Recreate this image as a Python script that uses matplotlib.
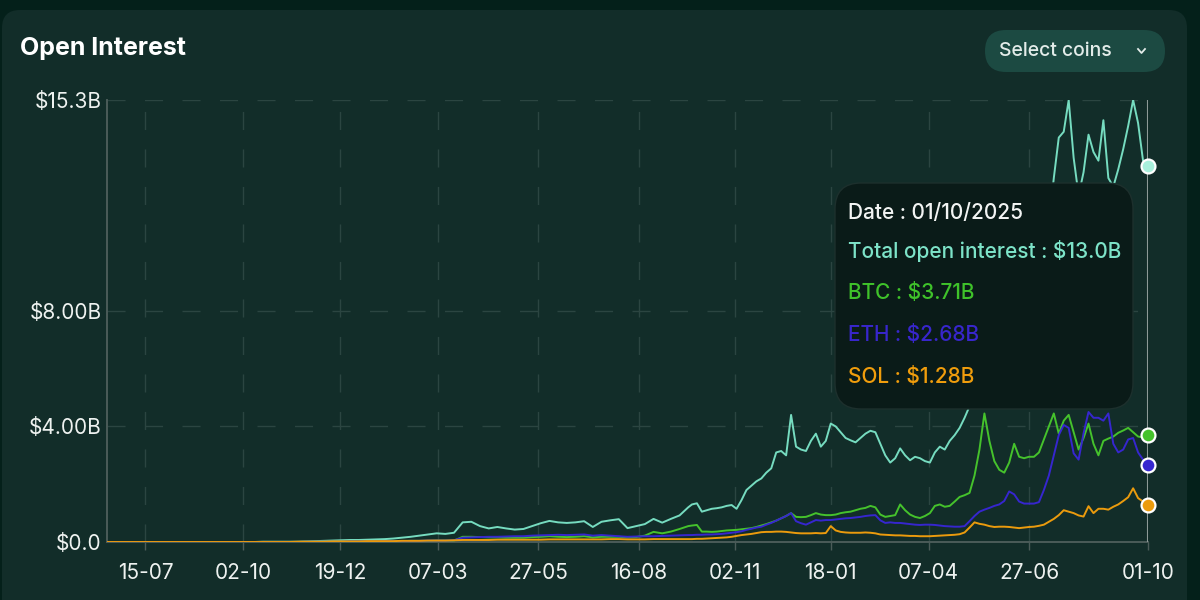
import matplotlib
matplotlib.use("Agg")
import matplotlib.pyplot as plt
from matplotlib.patches import FancyBboxPatch
from matplotlib.lines import Line2D
from matplotlib.transforms import IdentityTransform
import pandas as pd

plt.rcParams['font.family'] = ['Inter', 'DejaVu Sans']

# weekly readings up to late Sep 2024, then every 4 days up to 01/10/2025
weekly_dates = pd.date_range('2023-06-14', '2024-09-25', freq='7D')
recent_dates = pd.date_range('2024-09-28', '2025-10-01', freq='4D')
dates = weekly_dates.append(recent_dates)

total_oi = [
    0.0, 0.0, 0.0, 0.0, 0.0, 0.0, 0.0, 0.0, 0.0, 0.0,
    0.0, 0.0, 0.0, 0.0, 0.0, 0.0, 0.0, 0.0, 0.01, 0.01,
    0.01, 0.01, 0.01, 0.02, 0.03, 0.04, 0.05, 0.06, 0.07, 0.07,
    0.08, 0.09, 0.1, 0.12, 0.15, 0.18, 0.22, 0.26, 0.3, 0.28,
    0.32, 0.68, 0.7, 0.55, 0.47, 0.52, 0.47, 0.43, 0.45, 0.55,
    0.65, 0.73, 0.68, 0.66, 0.68, 0.72, 0.52, 0.7, 0.75, 0.79,
    0.48, 0.55, 0.62, 0.8, 0.67, 0.8, 0.92, 1.2,
    1.3, 1.34, 1.05, 1.1, 1.15, 1.17, 1.2, 1.25, 1.28, 1.15,
    1.45, 1.8, 1.95, 2.1, 2.2, 2.4, 2.55, 3.1, 3.15, 3.0,
    4.4, 3.3, 3.2, 3.15, 3.5, 3.75, 3.3, 3.5, 4.1, 4.0,
    3.8, 3.6, 3.52, 3.45, 3.6, 3.75, 3.85, 3.8, 3.4, 3.0,
    2.75, 2.9, 3.24, 3.0, 2.83, 2.95, 2.9, 2.8, 2.75, 3.1,
    3.3, 3.2, 3.5, 3.7, 3.95, 4.3, 4.7, 5.2, 6.2, 8.0,
    7.2, 6.8, 6.6, 6.8, 7.5, 8.2, 7.6, 7.4, 7.5, 7.6,
    8.0, 9.0, 11.0, 12.6, 14.0, 14.2, 15.3, 13.3, 12.0, 12.8,
    14.1, 13.5, 13.2, 14.6, 12.6, 12.3, 12.9, 13.6, 14.4, 15.3,
    14.5, 13.2, 13.0,
]

btc_oi = [
    0.0, 0.0, 0.0, 0.0, 0.0, 0.0, 0.0, 0.0, 0.0, 0.0,
    0.0, 0.0, 0.0, 0.0, 0.0, 0.0, 0.0, 0.0, 0.0, 0.0,
    0.0, 0.0, 0.0, 0.01, 0.01, 0.01, 0.01, 0.01, 0.02, 0.02,
    0.02, 0.02, 0.03, 0.03, 0.03, 0.04, 0.04, 0.04, 0.05, 0.05,
    0.05, 0.18, 0.18, 0.17, 0.16, 0.16, 0.15, 0.15, 0.15, 0.17,
    0.18, 0.2, 0.18, 0.17, 0.18, 0.2, 0.16, 0.18, 0.18, 0.18,
    0.16, 0.17, 0.22, 0.35, 0.3, 0.36, 0.45, 0.55,
    0.57, 0.59, 0.36, 0.36, 0.35, 0.36, 0.38, 0.4, 0.41, 0.42,
    0.44, 0.46, 0.48, 0.52, 0.57, 0.62, 0.68, 0.74, 0.82, 0.9,
    1.0, 0.87, 0.86, 0.87, 0.93, 1.0, 0.95, 0.93, 0.93, 0.95,
    1.0, 1.03, 1.05, 1.1, 1.15, 1.18, 1.25, 1.2, 0.95, 0.87,
    0.9, 0.93, 1.3, 1.1, 0.95, 0.87, 0.83, 0.9, 1.0, 1.25,
    1.3, 1.22, 1.25, 1.4, 1.56, 1.62, 1.7, 2.3, 3.2, 4.45,
    3.5, 2.8, 2.5, 2.4, 2.75, 3.4, 2.95, 2.9, 2.95, 2.95,
    3.1, 3.55, 4.0, 4.45, 3.75, 4.2, 4.4, 3.8, 3.2, 3.6,
    4.1, 3.4, 3.0, 3.5, 3.58, 3.65, 3.78, 3.86, 3.95, 3.8,
    3.65, 3.62, 3.71,
]

eth_oi = [
    0.0, 0.0, 0.0, 0.0, 0.0, 0.0, 0.0, 0.0, 0.0, 0.0,
    0.0, 0.0, 0.0, 0.0, 0.0, 0.0, 0.0, 0.0, 0.0, 0.0,
    0.0, 0.0, 0.0, 0.01, 0.01, 0.01, 0.01, 0.01, 0.02, 0.02,
    0.02, 0.02, 0.03, 0.03, 0.03, 0.04, 0.04, 0.05, 0.05, 0.05,
    0.06, 0.15, 0.16, 0.17, 0.18, 0.18, 0.19, 0.2, 0.2, 0.22,
    0.23, 0.24, 0.25, 0.24, 0.25, 0.26, 0.22, 0.24, 0.22, 0.2,
    0.18, 0.19, 0.2, 0.2, 0.21, 0.22, 0.23, 0.24,
    0.24, 0.25, 0.25, 0.26, 0.26, 0.27, 0.28, 0.3, 0.32, 0.34,
    0.37, 0.42, 0.46, 0.5, 0.53, 0.6, 0.66, 0.74, 0.82, 0.9,
    1.0, 0.72, 0.65, 0.6, 0.68, 0.76, 0.74, 0.76, 0.76, 0.78,
    0.8, 0.82, 0.83, 0.85, 0.87, 0.9, 0.92, 0.93, 0.75, 0.66,
    0.68, 0.66, 0.66, 0.64, 0.62, 0.6, 0.59, 0.6, 0.6, 0.59,
    0.57, 0.55, 0.54, 0.53, 0.53, 0.55, 0.72, 0.9, 1.05, 1.12,
    1.18, 1.25, 1.3, 1.42, 1.75, 1.65, 1.4, 1.33, 1.33, 1.33,
    1.38, 1.8, 2.3, 3.0, 3.7, 4.05, 3.95, 3.07, 2.85, 3.76,
    4.5, 4.3, 4.3, 4.2, 4.45, 3.4, 3.1, 3.2, 3.55, 3.6,
    3.1, 2.85, 2.68,
]

sol_oi = [
    0.0, 0.0, 0.0, 0.0, 0.0, 0.0, 0.0, 0.0, 0.0, 0.0,
    0.0, 0.0, 0.0, 0.0, 0.0, 0.0, 0.0, 0.0, 0.0, 0.0,
    0.0, 0.0, 0.01, 0.01, 0.01, 0.01, 0.02, 0.02, 0.02, 0.02,
    0.03, 0.03, 0.03, 0.03, 0.04, 0.04, 0.04, 0.05, 0.05, 0.05,
    0.06, 0.07, 0.07, 0.07, 0.07, 0.08, 0.08, 0.08, 0.08, 0.08,
    0.08, 0.09, 0.09, 0.09, 0.09, 0.09, 0.09, 0.09, 0.1, 0.1,
    0.09, 0.09, 0.09, 0.1, 0.1, 0.1, 0.1, 0.1,
    0.1, 0.11, 0.11, 0.12, 0.13, 0.14, 0.15, 0.16, 0.18, 0.21,
    0.24, 0.26, 0.28, 0.31, 0.34, 0.35, 0.35, 0.36, 0.36, 0.35,
    0.33, 0.31, 0.3, 0.3, 0.3, 0.31, 0.3, 0.31, 0.55, 0.4,
    0.35, 0.33, 0.32, 0.32, 0.32, 0.33, 0.32, 0.3, 0.26, 0.25,
    0.24, 0.23, 0.23, 0.22, 0.21, 0.21, 0.2, 0.2, 0.2, 0.21,
    0.22, 0.23, 0.24, 0.25, 0.27, 0.33, 0.5, 0.68, 0.63, 0.6,
    0.55, 0.52, 0.53, 0.53, 0.52, 0.5, 0.48, 0.5, 0.52, 0.53,
    0.56, 0.6, 0.7, 0.8, 0.93, 1.1, 1.05, 1.0, 0.92, 0.88,
    1.24, 1.0, 1.15, 1.15, 1.12, 1.22, 1.3, 1.42, 1.55, 1.86,
    1.52, 1.4, 1.28,
]

xtick_dates = ['2023-07-15', '2023-10-02', '2023-12-19', '2024-03-07', '2024-05-27',
               '2024-08-16', '2024-11-02', '2025-01-18', '2025-04-07', '2025-06-27',
               '2025-10-01']
xtick_labels = ['15-07', '02-10', '19-12', '07-03', '27-05', '16-08',
                '02-11', '18-01', '07-04', '27-06', '01-10']
ytick_values = [0, 4, 8, 15.3]
ytick_labels = ['$0.0', '$4.00B', '$8.00B', '$15.3B']

tooltip_lines = [
    ('Date : 01/10/2025', '#f2f4f3'),
    ('Total open interest : $13.0B', '#7de3c8'),
    ('BTC : $3.71B', '#3fc22a'),
    ('ETH : $2.68B', '#3826cc'),
    ('SOL : $1.28B', '#f09d0c'),
]
tooltip_rows_y = [213, 251, 293, 335, 377]

c_total = '#76dcc0'
c_btc = '#45c22c'
c_eth = '#3626cf'
c_sol = '#eb9b0d'

W, H = 1200, 600
fig = plt.figure(figsize=(12, 6), dpi=100)
fig.patch.set_facecolor('#04201a')

# card background
card = FancyBboxPatch((2, -40), 1185, 630, boxstyle='round,pad=0,rounding_size=18',
                      transform=IdentityTransform(), facecolor='#122d29',
                      edgecolor='none', zorder=-5)
fig.add_artist(card)

ax = fig.add_axes([107 / W, 1 - 542 / H, (1148 - 107) / W, (542 - 100) / H])
ax.set_facecolor('none')

ax.plot(dates, total_oi, color=c_total, lw=1.4, zorder=3)
ax.plot(dates, btc_oi, color=c_btc, lw=1.4, zorder=4)
ax.plot(dates, eth_oi, color=c_eth, lw=1.4, zorder=5)
ax.plot(dates, sol_oi, color=c_sol, lw=1.4, zorder=6)

ax.set_xlim(dates[0], dates[-1])
ax.set_ylim(0, 15.3)

# cursor line and end markers
ax.axvline(dates[-1], color='#8d9a97', lw=1.5, zorder=7)
for vals, col in [(total_oi, '#a8f0dc'), (btc_oi, c_btc), (eth_oi, c_eth), (sol_oi, c_sol)]:
    ax.plot([dates[-1]], [vals[-1]], 'o', ms=10, mfc=col, mec='white', mew=1.6,
            zorder=8, clip_on=False)

ax.set_xticks(pd.to_datetime(xtick_dates))
ax.set_xticklabels(xtick_labels)
ax.set_yticks(ytick_values)
ax.set_yticklabels(ytick_labels)
ax.tick_params(axis='x', colors='#4b5c59', length=6, width=1, labelsize=15,
               labelcolor='#eef2f0', pad=9)
ax.tick_params(axis='y', length=0, labelsize=15, labelcolor='#eef2f0', pad=4)

ax.grid(True, color='#2b4541', lw=1, linestyle=(0, (13, 14)))
for side in ['top', 'right']:
    ax.spines[side].set_visible(False)
for side in ['left', 'bottom']:
    ax.spines[side].set_color('#4b5c59')
    ax.spines[side].set_linewidth(1.4)

# title
fig.text(20 / W, 1 - 48 / H, 'Open Interest', fontsize=18, fontweight='bold',
         color='white', va='center', ha='left')

# select coins button
btn = FancyBboxPatch((985, H - 72), 180, 42, boxstyle='round,pad=0,rounding_size=21',
                     transform=IdentityTransform(), facecolor='#1c4a42',
                     edgecolor='none', zorder=5)
fig.add_artist(btn)
fig.text(999 / W, 1 - 51 / H, 'Select coins', fontsize=14, fontweight='medium',
         color='#e3ece9', va='center', ha='left', zorder=6)
fig.add_artist(Line2D([1138, 1141.5, 1145], [H - 49, H - 53, H - 49],
                      transform=IdentityTransform(), color='#e3ece9', lw=1.3, zorder=6))

# tooltip
tip = FancyBboxPatch((835, H - 409), 298, 226, boxstyle='round,pad=0,rounding_size=26',
                     transform=IdentityTransform(), facecolor='#0a1b18',
                     edgecolor='#1d302d', lw=1, zorder=10)
fig.add_artist(tip)
for (txt, col), y in zip(tooltip_lines, tooltip_rows_y):
    fig.text(848 / W, 1 - y / H, txt, fontsize=15, fontweight='medium', color=col,
             va='center', ha='left', zorder=11)

fig.savefig('out.png', dpi=100, facecolor=fig.get_facecolor())
